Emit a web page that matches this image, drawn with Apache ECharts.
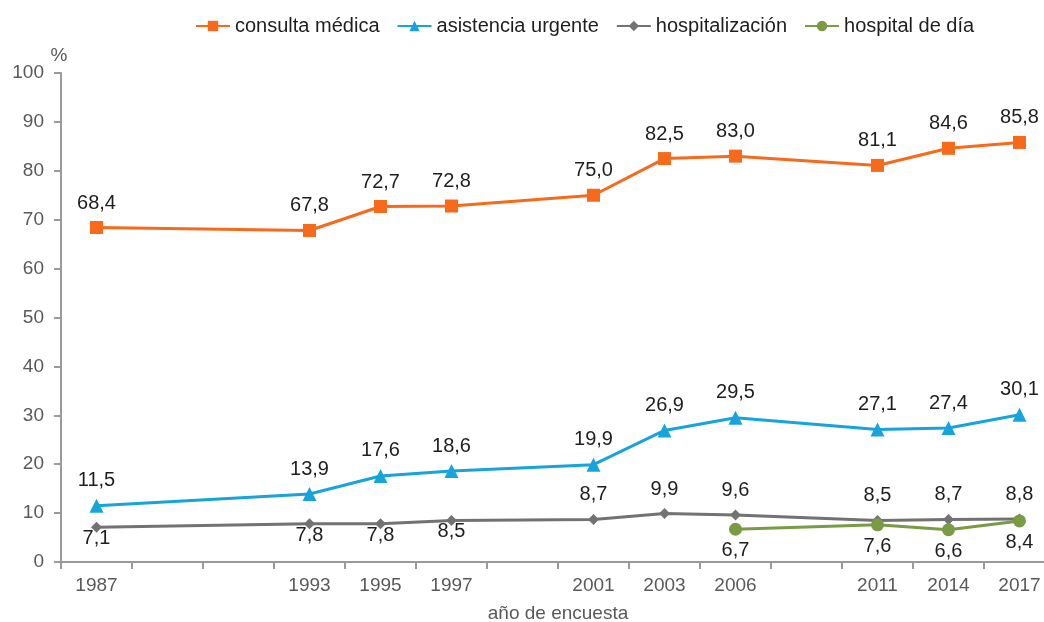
<!DOCTYPE html>
<html>
<head>
<meta charset="utf-8">
<script src="https://cdn.jsdelivr.net/npm/echarts@6/dist/echarts.min.js"></script>
<style>
  html, body { margin: 0; padding: 0; background: #fff; }
  #chart { width: 1044px; height: 622px; }
</style>
</head>
<body>
<div id="chart"></div>
<script>
// empty slots keep the gaps the original axis has between survey years
var years = ['1987', '', '', '1993', '1995', '1997', '', '2001', '2003', '2006', '', '2011', '2014', '2017'];

var consulta = [68.4, null, null, 67.8, 72.7, 72.8, null, 75.0, 82.5, 83.0, null, 81.1, 84.6, 85.8];
var urgente = [11.5, null, null, 13.9, 17.6, 18.6, null, 19.9, 26.9, 29.5, null, 27.1, 27.4, 30.1];
var hospitalizacion = [7.1, null, null, 7.8, 7.8, 8.5, null, 8.7, 9.9, 9.6, null, 8.5, 8.7, 8.8];
var hospitalDia = [null, null, null, null, null, null, null, null, null, 6.7, null, 7.6, 6.6, 8.4];

var yTicks = [0, 10, 20, 30, 40, 50, 60, 70, 80, 90, 100];

var chart = echarts.init(document.getElementById('chart'));

function fmt(p) {
    var v = p.value;
    if (v == null) return '';
    return Number(v).toFixed(1).replace('.', ',');
}

// in the original the first four hospitalización labels sit under the line
var labelBelow = ['1987', '1993', '1995', '1997'];

function lineSeries(name, data, color, symbol, size, pos, dist) {
    return {
        name: name,
        type: 'line',
        data: data,
        connectNulls: true,
        symbol: symbol,
        symbolSize: size,
        color: color,
        lineStyle: { width: 3, color: color },
        itemStyle: { color: color },
        label: {
            show: true,
            position: pos,
            distance: dist,
            formatter: fmt,
            color: '#1e1e1e',
            fontSize: 20,
            fontFamily: 'Liberation Sans'
        },
        z: 3
    };
}

var hospData = hospitalizacion.map(function (v, i) {
    if (labelBelow.indexOf(years[i]) >= 0) {
        return { value: v, label: { position: 'bottom', distance: 0, offset: [0, -4] } };
    }
    return v;
});

chart.setOption({
    animation: false,
    textStyle: { fontFamily: 'Liberation Sans' },
    legend: {
        top: 11,
        left: 190,
        itemWidth: 34,
        itemHeight: 13,
        itemGap: 17,
        textStyle: { fontSize: 20, color: '#1e1e1e', fontFamily: 'Liberation Sans' },
        data: ['consulta médica', 'asistencia urgente', 'hospitalización', 'hospital de día']
    },
    // the original plot runs a little past the right edge of the picture
    grid: { left: 61, width: 994, top: 73, bottom: 60, outerBoundsMode: 'none', containLabel: false },
    xAxis: {
        type: 'category',
        data: years,
        boundaryGap: true,
        name: 'año de encuesta',
        nameLocation: 'middle',
        nameGap: 42,
        nameTextStyle: { fontSize: 19, color: '#595959' },
        axisLine: { lineStyle: { color: '#9a9a9a', width: 2 } },
        axisTick: { show: true, interval: 0, length: 7, lineStyle: { color: '#9a9a9a', width: 2 } },
        axisLabel: { interval: 0, margin: 14, fontSize: 19, color: '#595959' },
        splitLine: { show: false }
    },
    yAxis: {
        type: 'value',
        min: yTicks[0],
        max: yTicks[yTicks.length - 1],
        interval: 10,
        name: '%',
        nameGap: 8,
        nameTextStyle: { fontSize: 19, color: '#595959', align: 'center', padding: [0, 0, 0, -4] },
        axisLine: { show: true, lineStyle: { color: '#9a9a9a', width: 2 } },
        axisTick: { show: true, length: 7, lineStyle: { color: '#9a9a9a', width: 2 } },
        axisLabel: { margin: 17, fontSize: 19, color: '#595959' },
        splitLine: { show: false }
    },
    series: [
        lineSeries('consulta médica', consulta, '#f76a1c', 'rect', 13, 'top', 8),
        lineSeries('asistencia urgente', urgente, '#17a3dc', 'triangle', 14, 'top', 8),
        lineSeries('hospitalización', hospData, '#727274', 'diamond', 11, 'top', 9),
        lineSeries('hospital de día', hospitalDia, '#799b44', 'circle', 13, 'bottom', 5)
    ]
});
</script>
</body>
</html>
